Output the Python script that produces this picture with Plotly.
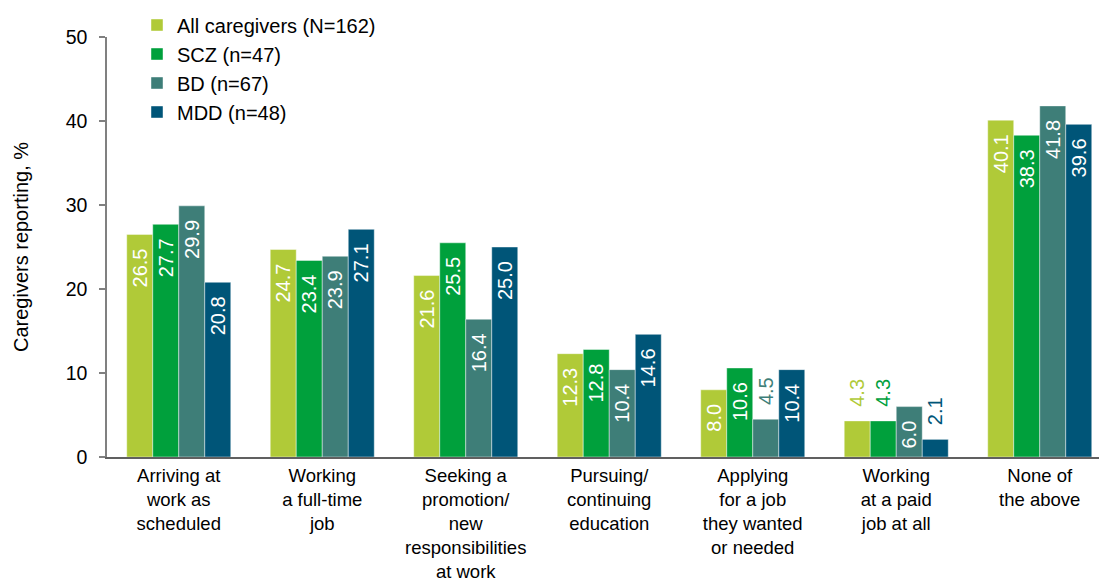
import plotly.graph_objects as go

# Work-related activities affected by caregiving
categories = [
    "Arriving at<br>work as<br>scheduled",
    "Working<br>a full-time<br>job",
    "Seeking a<br>promotion/<br>new<br>responsibilities<br>at work",
    "Pursuing/<br>continuing<br>education",
    "Applying<br>for a job<br>they wanted<br>or needed",
    "Working<br>at a paid<br>job at all",
    "None of<br>the above",
]

series_names = ["All caregivers (N=162)", "SCZ (n=47)", "BD (n=67)", "MDD (n=48)"]
all_caregivers = [26.5, 24.7, 21.6, 12.3, 8.0, 4.3, 40.1]
scz = [27.7, 23.4, 25.5, 12.8, 10.6, 4.3, 38.3]
bd = [29.9, 23.9, 16.4, 10.4, 4.5, 6.0, 41.8]
mdd = [20.8, 27.1, 25.0, 14.6, 10.4, 2.1, 39.6]

colors = ["#B0CA38", "#00A03C", "#3E7E78", "#005578"]

FONT = "Arial, Liberation Sans, sans-serif"
FS = 20
NB = "\u00a0"
SMALL = 5.0  # bars shorter than this get their label above the bar

fig = go.Figure()
for name, vals, col in zip(series_names, [all_caregivers, scz, bd, mdd], colors):
    texts, positions, tcolors = [], [], []
    for v in vals:
        if v < SMALL:
            texts.append(NB * 2 + f"{v:.1f}")
            positions.append("outside")
            tcolors.append(col)
        else:
            texts.append(f"{v:.1f}" + NB * 2)
            positions.append("inside")
            tcolors.append("white")
    fig.add_trace(go.Bar(
        name=name,
        x=categories,
        y=vals,
        marker=dict(color=col, line=dict(color="rgba(255,255,255,0.55)", width=0.8)),
        text=texts,
        textposition=positions,
        textangle=-90,
        insidetextanchor="end",
        constraintext="none",
        textfont=dict(family=FONT, size=FS, color=tcolors),
        cliponaxis=False,
        hoverinfo="skip",
    ))

fig.update_layout(
    width=1099,
    height=583,
    margin=dict(l=107, r=0, t=37, b=126, autoexpand=False),
    paper_bgcolor="white",
    plot_bgcolor="white",
    barmode="group",
    bargap=0.275,
    bargroupgap=0,
    font=dict(family=FONT, size=FS, color="black"),
    showlegend=True,
    legend=dict(
        x=(137 - 107) / 992,
        y=1.075,
        xanchor="left",
        yanchor="top",
        bgcolor="rgba(0,0,0,0)",
        font=dict(family=FONT, size=FS, color="black"),
        tracegroupgap=0,
    ),
)

fig.update_xaxes(
    range=[-0.5, 6.413],
    automargin=False,
    showline=True,
    linecolor="#606060",
    linewidth=1.5,
    ticks="",
    showgrid=False,
    ticklabelstandoff=1,
    tickfont=dict(family=FONT, size=18.5, color="black"),
)

fig.update_yaxes(
    range=[0, 50],
    automargin=False,
    tickvals=[0, 10, 20, 30, 40, 50],
    showline=True,
    linecolor="#808080",
    linewidth=1.5,
    ticks="outside",
    ticklen=6,
    tickcolor="#808080",
    tickwidth=1.5,
    showgrid=False,
    zeroline=False,
    ticklabelstandoff=8,
    tickfont=dict(family=FONT, size=19.5, color="black"),
    title=dict(text="Caregivers reporting, %", font=dict(family=FONT, size=FS, color="black"), standoff=32),
)

fig.write_html("out.html")
